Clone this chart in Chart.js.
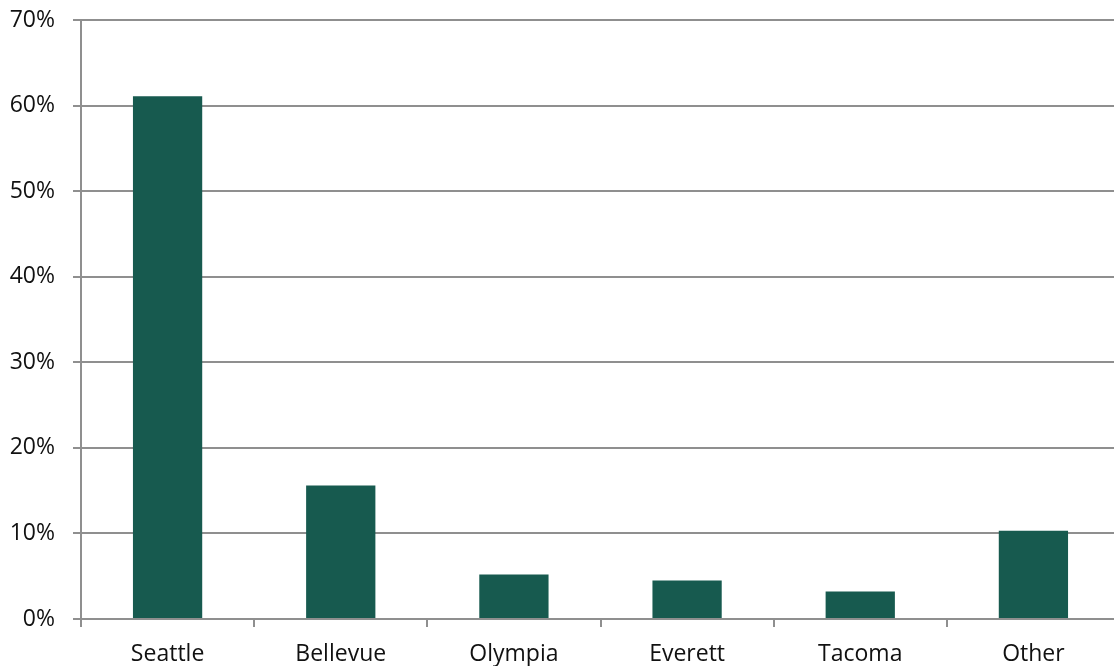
<!DOCTYPE html>
<html>
<head>
<meta charset="utf-8">
<script src="https://cdn.jsdelivr.net/npm/chart.js@4"></script>
<style>
  html, body { margin: 0; padding: 0; background: #fff; overflow: hidden; }
  #wrap { position: absolute; left: 0; top: 0; width: 1122px; height: 666px; }
</style>
</head>
<body>
<div id="wrap"><canvas id="cityChart"></canvas></div>
<script>
// share of respondents by city
const cities = ['Seattle', 'Bellevue', 'Olympia', 'Everett', 'Tacoma', 'Other'];
const shares = [61.1, 15.6, 5.2, 4.5, 3.2, 10.3];
const yTicks = [0, 10, 20, 30, 40, 50, 60, 70];

const axisGray = '#8f8f8f';

new Chart(document.getElementById('cityChart'), {
    type: 'bar',
    data: {
        labels: cities,
        datasets: [{
            data: shares,
            backgroundColor: '#175a4f',
            borderWidth: 0,
            barPercentage: 0.4,
            categoryPercentage: 1.0
        }]
    },
    options: {
        responsive: true,
        maintainAspectRatio: false,
        animation: false,
        layout: { padding: { top: 20, right: 2, left: 0, bottom: 0 } },
        plugins: {
            legend: { display: false },
            tooltip: { enabled: false }
        },
        scales: {
            x: {
                grid: {
                    offset: true,
                    drawOnChartArea: false,
                    drawTicks: true,
                    tickLength: 8,
                    color: axisGray,
                    lineWidth: 2
                },
                border: { color: axisGray, width: 2 },
                ticks: {
                    color: '#111',
                    padding: 14,
                    font: { family: '"Open Sans", sans-serif', size: 23 }
                },
                afterFit: s => { s.height = 47; s.paddingLeft = 0; s.paddingRight = 0; }
            },
            y: {
                min: 0,
                max: yTicks[yTicks.length - 1],
                afterBuildTicks: s => { s.ticks = yTicks.map(v => ({ value: v })); },
                grid: {
                    color: axisGray,
                    lineWidth: 2,
                    tickLength: 8
                },
                border: { color: axisGray, width: 2 },
                ticks: {
                    color: '#111',
                    padding: 18,
                    callback: v => v + '%',
                    font: { family: '"Open Sans", sans-serif', size: 23 }
                },
                // keep the top label from pushing the plot area down
                afterFit: s => { s.width = 81; s.paddingTop = 0; s.paddingBottom = 0; }
            }
        }
    }
});
</script>
</body>
</html>
